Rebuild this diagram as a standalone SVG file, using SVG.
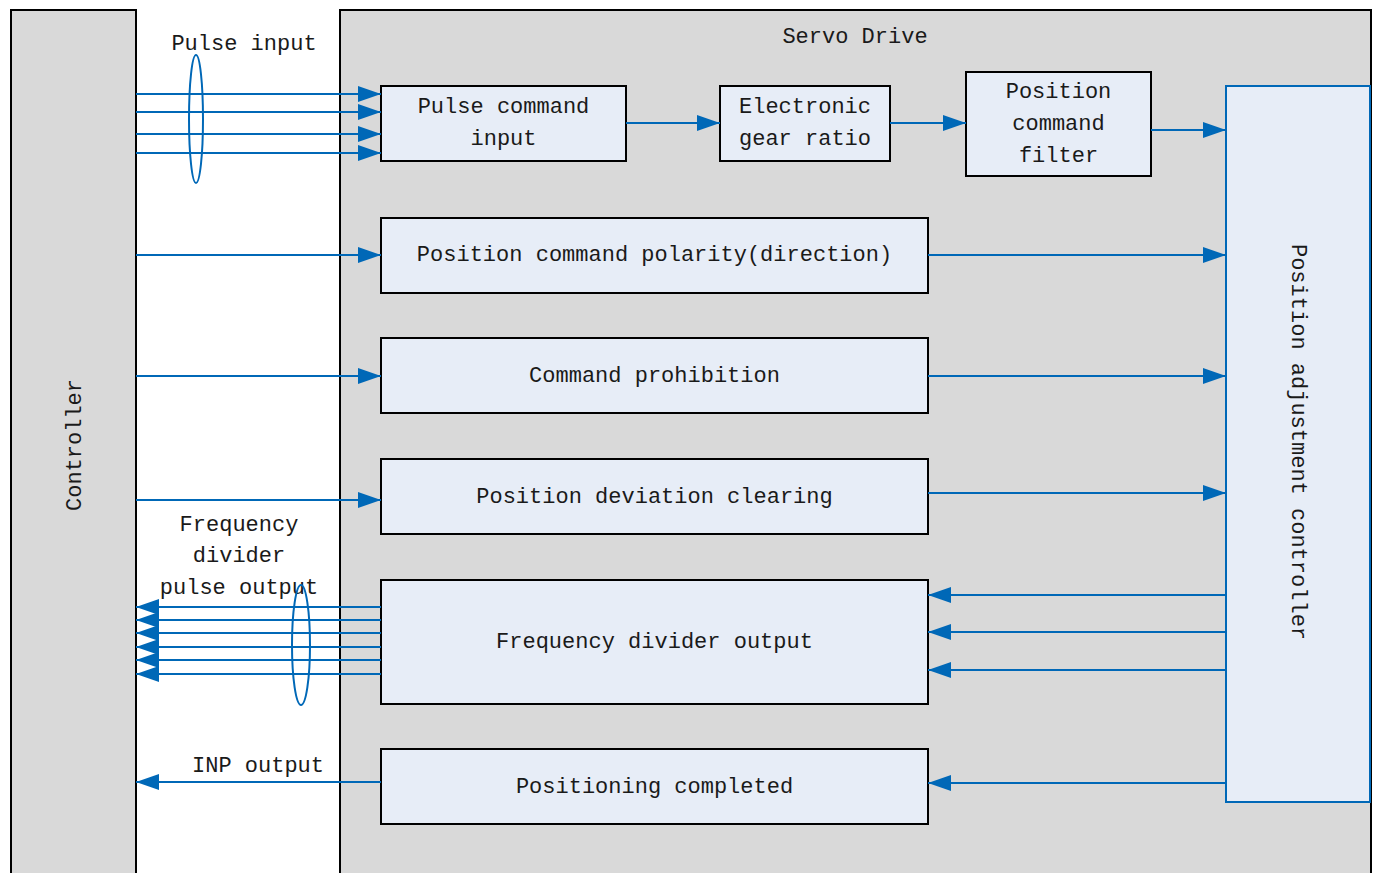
<svg xmlns="http://www.w3.org/2000/svg" width="1380" height="873" viewBox="0 0 1380 873">
<defs>
<style>
.panel{fill:#d9d9d9;stroke:#000;stroke-width:2}
.box{fill:#e7edf7;stroke:#000;stroke-width:2}
.pac{fill:#e7edf7;stroke:#0068b7;stroke-width:2}
.ln{stroke:#0068b7;stroke-width:2;fill:none}
.arr{stroke:#0068b7;stroke-width:2;fill:none;marker-end:url(#ah)}
.ell{stroke:#0068b7;stroke-width:2;fill:none}
text{font-family:"Liberation Mono","DejaVu Sans Mono",monospace;font-size:22px;fill:#1a1a1a;text-anchor:middle;dominant-baseline:central}
</style>
<marker id="ah" markerUnits="userSpaceOnUse" markerWidth="24" markerHeight="18" refX="23" refY="8" orient="auto">
<path d="M0,0 L23,8 L0,16 Z" fill="#0068b7"/>
</marker>
</defs>
<rect width="1380" height="873" fill="#fff"/>
<g id="controller">
<rect class="panel" x="11" y="10" width="125" height="875"/>
<text transform="translate(75,445) rotate(-90)">Controller</text>
</g>
<g id="servo-drive">
<rect class="panel" x="340" y="10" width="1031" height="875"/>
<text x="855" y="37">Servo Drive</text>
</g>
<g id="pulse-command-input">
<rect class="box" x="381" y="86" width="245" height="75"/>
<text x="503.5" y="107">Pulse command</text>
<text x="503.5" y="139">input</text>
</g>
<g id="electronic-gear-ratio">
<rect class="box" x="720" y="86" width="170" height="75"/>
<text x="805" y="107">Electronic</text>
<text x="805" y="139">gear ratio</text>
</g>
<g id="position-command-filter">
<rect class="box" x="966" y="72" width="185" height="104"/>
<text x="1058.5" y="92">Position</text>
<text x="1058.5" y="124">command</text>
<text x="1058.5" y="156">filter</text>
</g>
<g id="polarity">
<rect class="box" x="381" y="218" width="547" height="75"/>
<text x="654.5" y="255">Position command polarity(direction)</text>
</g>
<g id="command-prohibition">
<rect class="box" x="381" y="338" width="547" height="75"/>
<text x="654.5" y="376">Command prohibition</text>
</g>
<g id="deviation-clearing">
<rect class="box" x="381" y="459" width="547" height="75"/>
<text x="654.5" y="497">Position deviation clearing</text>
</g>
<g id="frequency-divider-output">
<rect class="box" x="381" y="580" width="547" height="124"/>
<text x="654.5" y="642">Frequency divider output</text>
</g>
<g id="positioning-completed">
<rect class="box" x="381" y="749" width="547" height="75"/>
<text x="654.5" y="787">Positioning completed</text>
</g>
<g id="position-adjustment-controller">
<rect class="pac" x="1226" y="86" width="144" height="716"/>
<text transform="translate(1297,442) rotate(90)">Position adjustment controller</text>
</g>
<g id="labels">
<text x="244" y="44">Pulse input</text>
<text x="239" y="525">Frequency</text>
<text x="239" y="556">divider</text>
<text x="239" y="588">pulse output</text>
<text x="258" y="766">INP output</text>
</g>
<g id="connectors">
<line class="arr" x1="136" y1="94" x2="381" y2="94"/>
<line class="arr" x1="136" y1="112" x2="381" y2="112"/>
<line class="arr" x1="136" y1="134" x2="381" y2="134"/>
<line class="arr" x1="136" y1="153" x2="381" y2="153"/>
<ellipse class="ell" cx="196" cy="119" rx="7" ry="64"/>
<line class="arr" x1="626" y1="123" x2="720" y2="123"/>
<line class="arr" x1="890" y1="123" x2="966" y2="123"/>
<line class="arr" x1="1151" y1="130" x2="1226" y2="130"/>
<line class="arr" x1="136" y1="255" x2="381" y2="255"/>
<line class="arr" x1="928" y1="255" x2="1226" y2="255"/>
<line class="arr" x1="136" y1="376" x2="381" y2="376"/>
<line class="arr" x1="928" y1="376" x2="1226" y2="376"/>
<line class="arr" x1="136" y1="500" x2="381" y2="500"/>
<line class="arr" x1="928" y1="493" x2="1226" y2="493"/>
<line class="arr" x1="1226" y1="595" x2="928" y2="595"/>
<line class="arr" x1="1226" y1="632" x2="928" y2="632"/>
<line class="arr" x1="1226" y1="670" x2="928" y2="670"/>
<line class="arr" x1="381" y1="607" x2="136" y2="607"/>
<line class="arr" x1="381" y1="620" x2="136" y2="620"/>
<line class="arr" x1="381" y1="633" x2="136" y2="633"/>
<line class="arr" x1="381" y1="647" x2="136" y2="647"/>
<line class="arr" x1="381" y1="660" x2="136" y2="660"/>
<line class="arr" x1="381" y1="674" x2="136" y2="674"/>
<ellipse class="ell" cx="301" cy="645" rx="9" ry="60"/>
<line class="arr" x1="381" y1="782" x2="136" y2="782"/>
<line class="arr" x1="1226" y1="783" x2="928" y2="783"/>
</g>
</svg>
